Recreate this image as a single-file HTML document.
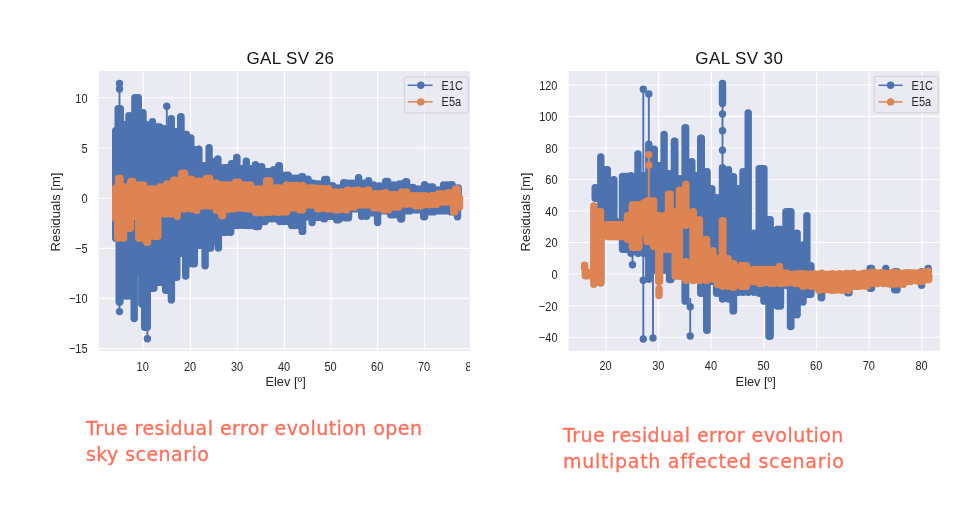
<!DOCTYPE html>
<html lang="en"><head><meta charset="utf-8"><title>Residual error evolution</title>
<style>
html,body{margin:0;padding:0;background:#fff;}
body{width:977px;height:511px;overflow:hidden;position:relative;font-family:"Liberation Sans",sans-serif;}
svg{position:absolute;left:0;top:0;display:block;will-change:transform;}
.t{font-family:"Liberation Sans",sans-serif;font-size:12.8px;fill:#262626;}
.ti{font-family:"Liberation Sans",sans-serif;font-size:17px;fill:#111;letter-spacing:0.4px;}
.cap{position:absolute;margin:0;color:#FF6E59;font-family:"DejaVu Sans","Liberation Sans",sans-serif;font-size:19px;line-height:26px;letter-spacing:0.44px;-webkit-text-stroke:0.3px #FF6E59;white-space:nowrap;will-change:transform;}
</style></head><body>
<svg width="977" height="511" viewBox="0 0 977 511">
<defs><clipPath id="cl"><rect x="98.7" y="70.7" width="371.3" height="280.3"/></clipPath>
<clipPath id="cl2"><rect x="460" y="355" width="10" height="20"/></clipPath></defs>
<g><rect x="98.6" y="71" width="371.4" height="280" fill="#EAEAF2"/><path d="M143.1 71V351M190.4 71V351M237.4 71V351M284.5 71V351M330.9 71V351M377.6 71V351M424.4 71V351M98.6 97.8H470M98.6 148H470M98.6 198.2H470M98.6 248.4H470M98.6 298.4H470M98.6 348.6H470" stroke="#fff" stroke-width="1.1" fill="none"/><g clip-path="url(#cl)"><path d="M115.7 130.7V198M117 130.7V198M118.2 108.7V198M120.3 108.7V198M124 124.7V198M125.5 124.7V198M126.7 124.7V198M128.9 115.7V198M131.3 115.7V198M134.9 97.7V198M138.3 97.7V198M141.8 112.7V198M143 112.7V198M144.2 124.7V198M146.9 124.7V198M149.8 124.7V198M152.5 121.7V198M155.2 127V198M158.7 127V198M159.8 127V198M163.2 128.7V198M165.8 128.7V198M168.2 128.7V198M171.3 118.7V198M174.6 131.7V198M176 131.7V198M177.2 131.7V198M180.7 116.7V198M181 116.7V198M184.6 134.4V198M186.5 134.4V198M188.2 137.9V198M190.8 137.9V198M193.2 149.7V198M194.2 149.7V198M195.2 149.7V198M198.7 149.1V198M198.9 149.1V198M202.5 165.7V198M204.1 165.7V198M205.7 165.7V198M209.1 147.7V198M212.5 161.7V198M213.5 161.7V198M214.5 161.7V198M217.9 158.9V198M221.3 167.7V198M224.9 167.7V198M226.5 167.7V198M229.8 167.7V198M231.5 163.7V198M233.2 163.7V198M236.7 157.5V198M236.9 157.5V198M240.5 168.7V198M241.9 168.7V198M243.2 168.7V198M246.3 161.2V198M249.5 168.7V198M250.9 168.7V198M252.2 168.7V198M255.4 164.7V198M258.7 166.7V198M261.7 166.7V198M264.6 171.7V198M268.2 171.7V198M268.6 171.7V198M272.1 171.7V198M273.6 169.7V198M275.1 169.7V198M278.7 165.7V198M279.3 165.7V198M283 175.2V198M286.7 175.2V198M288.2 175.2V198M291.8 178.2V198M295 178.2V198M298.1 178.2V198M301.7 176.7V198M302.6 176.7V198M306.1 179.1V198M308.1 179.1V198M310.1 183.1V198M313.1 183.1V198M316.1 184V198M318.6 184V198M321.1 184V198M324.7 179.5V198M326.6 179.5V198M330.1 185.7V198M332.6 185.7V198M335.1 187.9V198M337.6 187.9V198M340.1 187.9V198M343.7 182.7V198M344.6 182.7V198M348.1 183.1V198M351.6 183.1V198M355.1 183.1V198M358.6 177.6V198M362.1 183.1V198M364.1 183.1V198M366.1 183.1V198M368.6 180.7V198M371.1 185V198M373.6 185V198M376.1 186V198M379.1 186V198M382.1 186V198M385.7 181.5V198M387.6 181.5V198M391.1 185V198M394.1 185V198M397.1 185V198M399.6 184V198M402.1 184V198M405.7 181.7V198M406.6 181.7V198M410.1 187.4V198M413.1 187.4V198M416.1 188.9V198M418.6 188.9V198M421.1 188.9V198M424.6 184.7V198M428.1 187V198M431.7 187V198M432.6 187V198M436.1 189.9V198M438.1 189.9V198M440.1 189.9V198M443.6 185V198M447.1 185V198M450.7 184.7V198M452.1 184.7V198M455.6 187.9V198M458.2 187.9V198M115.7 198V238.3M117.5 198V238.3M119.2 198V302M119.9 198V302M123.5 198V296.1M127 198V296.1M130.8 198V296.1M134.2 198V318.6M137.1 198V272.3M138.5 198V272.3M140 198V272.3M141.8 198V303.9M142.2 198V303.9M144.7 198V327.3M147.3 198V327.3M151 198V288.3M153.9 198V288.3M156.7 198V282.3M159.7 198V282.3M162.7 198V282.3M165.6 198V290.3M168.5 198V290.3M171.4 198V300M174.4 198V277.3M176.8 198V277.3M179.2 198V253.3M180.7 198V253.3M182.2 198V253.3M185.7 198V276.1M189.2 198V263.8M192.7 198V263.8M194.3 198V263.8M197.8 198V245.3M199.8 198V245.3M201.7 198V245.3M205.1 198V265.8M208.6 198V248.1M210.6 198V248.1M212.5 198V241.3M214 198V241.3M215.5 198V241.3M218.4 198V248.1M221.3 198V232.3M223.8 198V232.3M226.2 198V232.3M229.7 198V232.3M230.6 198V232.3M234.2 198V225.6M237.7 198V225.6M240.4 198V225.1M243.2 198V225.2M245.9 198V225.3M248.6 198V225.6M252.2 198V225.6M255.7 198V226.5M258.6 198V226.5M262.1 198V221.6M265.1 198V221.6M268.1 198V218.7M271.7 198V218.7M272.6 198V218.7M276.1 198V218.7M279.7 198V221.6M282.1 198V221.2M284.6 198V221.6M288.1 198V221.6M291.7 198V225.6M295 198V225.6M298.6 198V225.6M302.2 198V231.4M302.6 198V231.4M306.1 198V216.8M307.6 198V216.8M309.1 198V216.8M312.1 198V222.6M315.1 198V217.3M317.6 198V217.3M320.1 198V217.3M323.7 198V218.7M324.6 198V218.7M328.1 198V216.3M330.6 198V216.3M333.1 198V216.3M336.7 198V219.7M338.6 198V219.7M342.1 198V217.7M345.7 198V217.7M348.6 198V217.7M352.1 198V208.9M355.1 198V208.9M358.1 198V208.9M361.7 198V216.3M364.1 198V215.8M366.6 198V216.3M370.1 198V212.8M372.1 198V212.8M374.1 198V212.8M377.6 198V222.6M381.1 198V210.9M384.1 198V210.9M387.1 198V210.9M390.7 198V214.8M393.6 198V214.8M397.1 198V214.8M400.7 198V219.1M401.6 198V219.1M405.1 198V210.9M408.7 198V210.9M409.6 198V210.9M413.1 198V209.9M416.6 198V209.9M420.1 198V209.9M423.7 198V216.8M424.6 198V216.8M428.1 198V211.9M431.7 198V211.9M433.6 198V211.9M437.1 198V210.9M440.7 198V210.9M442.6 198V210.2M444.6 198V210.9M448.1 198V210.9M451.1 198V211.9M454.1 198V211.9M457.5 198V216.8" stroke="#4C72B0" stroke-width="7.4" stroke-linecap="round" fill="none"/><path d="M119.5 83.5V110" stroke="#4C72B0" stroke-width="1.9" fill="none"/><circle cx="119.5" cy="83.5" r="3.7" fill="#4C72B0"/><circle cx="119.5" cy="89" r="3.7" fill="#4C72B0"/><path d="M166.8 106.2V126" stroke="#4C72B0" stroke-width="1.9" fill="none"/><circle cx="166.8" cy="106.2" r="3.7" fill="#4C72B0"/><path d="M119.5 311.6V300" stroke="#4C72B0" stroke-width="1.9" fill="none"/><circle cx="119.5" cy="311.6" r="3.7" fill="#4C72B0"/><path d="M147.4 338.7V326" stroke="#4C72B0" stroke-width="1.9" fill="none"/><circle cx="147.4" cy="338.7" r="3.7" fill="#4C72B0"/><path d="M115.7 187.9V198M117.2 187.9V198M118.7 178.2V198M120.1 178.2V198M123.7 187V198M125.4 187V198M127.2 187V198M130.7 181.5V198M132.6 181.5V198M136.2 185V198M139.7 185V198M141.7 186V198M143.6 185V198M147.2 188.9V198M150.7 188.9V198M153.6 188.9V198M157.2 188.9V198M160.2 187V198M163.2 187V198M166.7 184V198M170.2 184V198M173.7 180.1V198M174.6 180.1V198M178.2 180.1V198M181.7 173.3V198M184.6 173.3V198M188.2 179.1V198M191.7 179.1V198M195.2 181.1V198M198.7 181.1V198M199.6 181.1V198M203.2 181.1V198M206.7 178.2V198M209.6 178.2V198M213.2 183.1V198M216.7 183.1V198M220.2 185V198M223.7 185V198M226.2 185.4V198M228.6 185V198M232.2 185V198M235.7 182.1V198M238.6 182.1V198M242.2 185V198M245.7 185V198M248.2 185.1V198M250.6 185V198M254.2 188.9V198M257.7 188.9V198M259.6 188.9V198M263.1 188.9V198M266.7 180.7V198M269.6 180.7V198M273.1 187.9V198M276.7 187.9V198M279.6 187.9V198M283.1 187.9V198M286.6 185V198M290.1 185.4V198M293.7 185.4V198M296.7 185.8V198M299.6 186.1V198M302.6 185.4V198M306.1 187.9V198M309.7 187.9V198M312.1 188V198M314.6 187.9V198M318.1 188.5V198M321.7 188.5V198M325.1 189V198M328.6 188.5V198M332.1 191.9V198M335.7 191.9V198M338.1 192.8V198M340.6 191.9V198M344.1 191.9V198M347.7 189.9V198M351.2 190.7V198M354.7 190.4V198M358.1 190.3V198M361.6 191.2V198M365.1 190.9V198M368.6 189.9V198M372.1 193.8V198M375.7 193.8V198M378.6 193.8V198M382.1 193.8V198M385.6 192.4V198M389.1 194.7V198M392.7 194.7V198M394.6 194.7V198M398.1 194.7V198M401.7 191.9V198M404.1 192.6V198M406.6 191.9V198M410.1 195.7V198M413.7 195.7V198M416.1 196.8V198M418.6 195.7V198M422.1 195.7V198M425.7 195.7V198M428.6 196.9V198M431.6 195.7V198M435.1 195.7V198M438.7 193.8V198M441.6 193.8V198M445.1 193.8V198M448.6 192.8V198M452.1 192.8V198M455.7 188.9V198M457.3 188.9V198M115.7 198V218.7M116.7 198V218.7M117.7 198V238.3M120.7 198V237.6M123.6 198V238.3M127.2 198V228.3M130.3 198V228.3M133.6 198V216.3M134.4 198V216.3M135.2 198V216.3M138.7 198V238.3M139.6 198V238.3M143.2 198V238.3M146.7 198V242.3M147.6 198V242.3M151.2 198V236.3M154.7 198V236.3M157.8 198V236.3M161.5 198V213.8M165.2 198V213.8M168.4 198V213.7M171.6 198V213.8M175.2 198V213.8M177.2 198V216.3M179.2 198V208.9M182.7 198V208.9M185.3 198V208.7M188 198V208.1M190.6 198V208.9M194.2 198V208.9M196.7 198V210.5M199.2 198V206M202.7 198V206M205.3 198V204.7M208 198V205.7M210.6 198V206M214.2 198V206M216.2 198V210.3M218.2 198V210.3M221.7 198V215.8M222.6 198V215.8M226.2 198V209.3M228.2 198V209.3M230.2 198V208.9M233.7 198V208.9M236.7 198V208.3M239.7 198V207.7M242.6 198V208.1M245.6 198V208.4M248.6 198V208.9M252.2 198V208.9M255.7 198V212.8M259.1 198V212M262.6 198V212.8M266.1 198V212.3M269.7 198V212.3M273 198V211.8M276.3 198V212M279.6 198V212.3M283.1 198V211.9M286.6 198V211.9M290.1 198V207.9M293.1 198V207.9M296.1 198V207.9M299.7 198V209.9M302.6 198V209.9M306.1 198V205M309.7 198V205M310.6 198V205M314.1 198V205M317.7 198V208.9M320.4 198V208.5M323.1 198V207.8M325.9 198V208.7M328.6 198V208.9M332.1 198V208.9M335.7 198V209.9M338.4 198V209.8M341.1 198V209.3M343.9 198V209.1M346.6 198V209.9M350.1 198V207M353.7 198V207M354.6 198V207M358.1 198V205M361.7 198V205M364.1 198V204.5M366.6 198V205M370.1 198V205M373.7 198V207.9M376.6 198V207.9M380.1 198V207.9M383.7 198V209.9M386.1 198V209M388.6 198V209.9M392.1 198V207M395.7 198V207M398.6 198V207M402.1 198V204M405.7 198V204M408.6 198V204M412.1 198V204M415.7 198V206M418.1 198V205.4M420.6 198V206M424.1 198V204.6M427.7 198V204.6M430.7 198V204.5M433.6 198V204M436.6 198V204.6M440.1 198V202.1M443.7 198V202.1M446.6 198V202.1M450.1 198V202.1M453.7 198V211.9M454.6 198V211.9M458.1 198V207M459.5 198V207" stroke="#DD8452" stroke-width="7.4" stroke-linecap="round" fill="none"/></g><rect x="404.4" y="76.9" width="64" height="36.1" rx="2.2" fill="#EAEAF2" fill-opacity="0.8" stroke="#ccc" stroke-opacity="0.8" stroke-width="1"/><path d="M407.7 85.3H432.6" stroke="#4C72B0" stroke-width="1.5"/><circle cx="420.8" cy="85.3" r="3.7" fill="#4C72B0"/><text transform="translate(441.6 90.3) scale(0.86 1)" class="t" text-anchor="start">E1C</text><path d="M407.7 101.9H432.6" stroke="#DD8452" stroke-width="1.5"/><circle cx="420.8" cy="101.9" r="3.7" fill="#DD8452"/><text transform="translate(441.6 106.4) scale(0.86 1)" class="t" text-anchor="start">E5a</text><text transform="translate(142.7 370.6) scale(0.86 1)" class="t" text-anchor="middle">10</text><text transform="translate(190 370.6) scale(0.86 1)" class="t" text-anchor="middle">20</text><text transform="translate(237 370.6) scale(0.86 1)" class="t" text-anchor="middle">30</text><text transform="translate(284.1 370.6) scale(0.86 1)" class="t" text-anchor="middle">40</text><text transform="translate(330.5 370.6) scale(0.86 1)" class="t" text-anchor="middle">50</text><text transform="translate(377.2 370.6) scale(0.86 1)" class="t" text-anchor="middle">60</text><text transform="translate(424 370.6) scale(0.86 1)" class="t" text-anchor="middle">70</text><g clip-path="url(#cl2)"><text transform="translate(471.6 370.6) scale(0.86 1)" class="t" text-anchor="middle">80</text></g><text transform="translate(87.6 102.6) scale(0.86 1)" class="t" text-anchor="end">10</text><text transform="translate(87.6 152.8) scale(0.86 1)" class="t" text-anchor="end">5</text><text transform="translate(87.6 203) scale(0.86 1)" class="t" text-anchor="end">0</text><text transform="translate(87.6 253.2) scale(0.86 1)" class="t" text-anchor="end">−5</text><text transform="translate(87.6 303.2) scale(0.86 1)" class="t" text-anchor="end">−10</text><text transform="translate(87.6 353.4) scale(0.86 1)" class="t" text-anchor="end">−15</text><text transform="translate(285.6 386.4) scale(1 1)" class="t" text-anchor="middle">Elev [º]</text><text transform="translate(60.3 212) rotate(-90) scale(1.02 1)" class="t" text-anchor="middle">Residuals [m]</text><text x="290.4" y="63.7" class="ti" text-anchor="middle">GAL SV 26</text></g>
<g><rect x="568.6" y="71" width="371.3" height="279.8" fill="#EAEAF2"/><path d="M606 71V350.8M658.65 71V350.8M711.3 71V350.8M763.95 71V350.8M816.6 71V350.8M869.25 71V350.8M921.9 71V350.8M568.6 85H939.9M568.6 116.4H939.9M568.6 148H939.9M568.6 179.5H939.9M568.6 211H939.9M568.6 242.5H939.9M568.6 274H939.9M568.6 305.7H939.9M568.6 337.3H939.9" stroke="#fff" stroke-width="1.1" fill="none"/><path d="M595.2 187.7V198.31M595.3 187.7V198.31M600.8 156.9V282.81M606.7 169.7V220.31M607.3 169.7V220.31M613.7 179.7V222.31M613.9 179.7V222.31M616.4 221.7V236.31M622.5 176.5V249.31M624.3 176.5V249.31M626 176.5V249.31M627.8 176.5V249.31M631 175.7V253.31M638 154V253.31M643.5 175.7V253.31M648.8 144.2V279.31M654.2 149.1V270.31M658.8 165.7V270.31M664.1 134.4V270.31M669 173.7V270.31M674.4 141.3V270.31M674.8 141.3V270.31M669.5 253.7V279.61M670.9 253.7V279.61M680 178.7V270.31M685.1 127.6V301.11M685.6 127.6V301.11M691.8 161.7V270.31M695.8 175.7V270.31M700.7 138.3V293.31M701.3 138.3V293.31M706.7 171.7V330.31M707.1 171.7V330.31M711.8 188.7V281.31M716.6 197.7V293.31M722.5 167.7V299.11M722.5 83.5V103.51M728.5 169.7V299.11M733.1 176.7V310.91M733.5 176.7V310.91M738.8 188.7V292.31M743 171.7V292.31M748.2 112.9V292.31M753.8 233.3V292.31M759.2 168.7V293.31M760.8 168.7V293.31M762.3 168.7V293.31M763.9 168.7V293.31M763.9 168.7V301.11M769 219.6V336.31M770.2 219.6V336.31M777.2 229.4V306.01M778.3 229.4V306.01M780.1 229.4V306.01M780.5 229.4V306.01M786 211.7V285.31M787.4 211.7V285.31M788.9 211.7V285.31M790.3 211.7V285.31M790.5 211.7V326.51M790.9 211.7V326.51M797.1 233.3V314.81M803 245V302.11M806.9 215.7V294.31M809.5 265.7V294.31M810.9 265.7V294.31M821.2 275.7V297.81M821.6 275.7V297.81M833.7 275.7V289.31M834.6 275.7V289.31M847.7 275.7V292.81M849 275.7V292.81M870.1 268.4V288.31M871.5 268.4V288.31M885.8 268.4V281.31M894.7 271.7V289.71M895.9 271.7V289.71M897 271.7V289.71M921.6 271.7V285.31M928.2 268.4V279.31" stroke="#4C72B0" stroke-width="7.4" stroke-linecap="round" fill="none"/><path d="M643.3 89.2V339" stroke="#4C72B0" stroke-width="1.9" fill="none"/><circle cx="643.3" cy="89.2" r="3.7" fill="#4C72B0"/><circle cx="643.3" cy="280.3" r="3.7" fill="#4C72B0"/><circle cx="643.3" cy="339" r="3.7" fill="#4C72B0"/><path d="M648.8 93.9V142" stroke="#4C72B0" stroke-width="1.9" fill="none"/><circle cx="648.8" cy="93.9" r="3.7" fill="#4C72B0"/><path d="M653 250V338" stroke="#4C72B0" stroke-width="1.9" fill="none"/><circle cx="653" cy="338" r="3.7" fill="#4C72B0"/><path d="M632.5 250V264.7" stroke="#4C72B0" stroke-width="1.9" fill="none"/><circle cx="632.5" cy="264.7" r="3.7" fill="#4C72B0"/><path d="M690.2 298V336" stroke="#4C72B0" stroke-width="1.9" fill="none"/><circle cx="690.2" cy="306.8" r="3.7" fill="#4C72B0"/><circle cx="690.2" cy="336" r="3.7" fill="#4C72B0"/><path d="M722.5 105V166" stroke="#4C72B0" stroke-width="1.9" fill="none"/><circle cx="722.5" cy="114" r="3.7" fill="#4C72B0"/><circle cx="722.5" cy="130.7" r="3.7" fill="#4C72B0"/><circle cx="722.5" cy="150.3" r="3.7" fill="#4C72B0"/><path d="M585.3 272.3V275.71M586.6 272.3V275.71M587.9 272.3V275.71M584.6 265.1V268.31M593.8 205.9V284.31M599.7 211.7V282.51M600.6 211.7V282.51M607.7 224.7V236.61M609.5 224.7V236.61M611.3 224.7V236.61M613.1 224.7V236.61M615 224.7V236.61M616.8 224.7V236.61M618.6 224.7V236.61M620.4 224.7V236.61M622.2 224.7V236.61M627.4 215.7V239.31M628 215.7V239.31M632.3 204.9V247.31M633.9 204.9V247.31M635.5 204.9V247.31M637.2 204.9V247.31M638.8 204.9V247.31M643.8 202.7V231.31M647 201V241.51M648.6 201V241.51M650.3 201V241.51M651.9 201V241.51M653.6 201V241.51M653.6 203.7V246.31M658.7 215.7V281.51M659.6 215.7V281.51M659 288.7V295.61M664.5 215.7V249.31M668.5 194.1V249.31M670.1 194.1V249.31M675.2 211.7V276.31M679.4 190.2V276.31M685.7 184.4V225.31M685.8 184.4V225.31M685.7 261.7V280.31M685.8 261.7V280.31M693 211.7V280.51M693.3 211.7V280.51M699.4 219.7V280.51M705.7 239.7V280.31M706.6 239.7V280.31M713 250.7V279.31M717.5 258.7V284.31M722.3 220.6V286.31M722.9 220.6V286.31M728 258.7V286.31M733.1 263.7V287.31M733.7 263.7V287.31M740.7 265.7V286.31M742.7 265.7V286.31M744.6 265.7V286.31M746.6 265.7V286.31M753.7 269.4V276M756.8 269.4V276M759.9 269.5V276M763 269.9V276M766.1 269.4V276M769.2 269.5V276M772.3 269.4V276M776 269.4V276M779.5 266.4V276M783 273.3V276M786.7 273.3V276M790.2 274.4V276M793.8 274.3V276M797.3 273.8V276M800.8 273.8V276M804.3 273.7V276M807.9 274.3V276M811.4 273.9V276M814.9 273.9V276M818.4 274.3V276M822 273.3V276M825.5 274.4V276M829 274.2V276M832.6 273.7V276M836.1 274.5V276M839.6 273.8V276M843.1 274.2V276M846.7 273.5V276M850.2 273.6V276M853.7 273.3V276M857.2 274.5V276M860.8 274V276M864.3 273.3V276M868 273.3V276M871.7 272.3V276M875.1 272.4V276M878.6 273V276M882 272.5V276M885.5 273.5V276M888.9 273.5V276M892.3 272.7V276M895.8 272.5V276M899.2 273.5V276M902.7 273.1V276M906.1 272.8V276M909.5 272.7V276M913 273V276M916.4 273V276M919.9 272.8V276M923.3 272.3V276M926 272.3V276M928.3 271.3V276M753 276V281.5M756 276V281.5M759.7 276V283.5M763.3 276V282.7M766.8 276V282.3M770.4 276V283.3M773.9 276V283.4M777.5 276V282.9M781.1 276V283.4M784.6 276V282.8M788.2 276V282.9M791.7 276V282.3M795.3 276V283.5M799 276V283.5M802.7 276V286.3M805.6 276V285.7M808.4 276V285.4M811.3 276V286.3M815 276V286.3M818.7 276V290.3M822 276V289.4M825.3 276V289.8M828.6 276V289.8M831.9 276V290.2M835.1 276V290M838.4 276V289.8M841.7 276V290.2M845 276V289.3M848.3 276V290.3M852 276V286.3M855.7 276V286.3M858.6 276V286.3M861.5 276V285.8M864.4 276V286M867.3 276V286.3M871 276V283.5M874.7 276V283.5M877.6 276V283.5M880.4 276V282.4M883.3 276V283.5M887 276V283.5M890.7 276V284.3M893.9 276V284M897 276V283.7M900.1 276V283.7M903.3 276V284.3M907 276V281.5M910.7 276V281.5M913.6 276V280.3M916.5 276V280.8M919.4 276V281.3M922.3 276V281.5M926 276V279.6M928.8 276V279.6" stroke="#DD8452" stroke-width="7.4" stroke-linecap="round" fill="none"/><path d="M648.8 154.6V198" stroke="#DD8452" stroke-width="1.9" fill="none"/><circle cx="648.8" cy="154.6" r="3.7" fill="#DD8452"/><circle cx="648.8" cy="165.3" r="3.7" fill="#DD8452"/><rect x="874.3" y="76.3" width="64" height="36.4" rx="2.2" fill="#EAEAF2" fill-opacity="0.8" stroke="#ccc" stroke-opacity="0.8" stroke-width="1"/><path d="M878.6 85.3H902.6" stroke="#4C72B0" stroke-width="1.5"/><circle cx="890.6" cy="85.3" r="3.7" fill="#4C72B0"/><text transform="translate(911.6 89.9) scale(0.86 1)" class="t" text-anchor="start">E1C</text><path d="M878.6 101.9H902.6" stroke="#DD8452" stroke-width="1.5"/><circle cx="890.6" cy="101.9" r="3.7" fill="#DD8452"/><text transform="translate(911.6 106.4) scale(0.86 1)" class="t" text-anchor="start">E5a</text><text transform="translate(605.6 370.4) scale(0.86 1)" class="t" text-anchor="middle">20</text><text transform="translate(658.25 370.4) scale(0.86 1)" class="t" text-anchor="middle">30</text><text transform="translate(710.9 370.4) scale(0.86 1)" class="t" text-anchor="middle">40</text><text transform="translate(763.55 370.4) scale(0.86 1)" class="t" text-anchor="middle">50</text><text transform="translate(816.2 370.4) scale(0.86 1)" class="t" text-anchor="middle">60</text><text transform="translate(868.85 370.4) scale(0.86 1)" class="t" text-anchor="middle">70</text><text transform="translate(921.5 370.4) scale(0.86 1)" class="t" text-anchor="middle">80</text><text transform="translate(557.5 89.8) scale(0.86 1)" class="t" text-anchor="end">120</text><text transform="translate(557.5 121.2) scale(0.86 1)" class="t" text-anchor="end">100</text><text transform="translate(557.5 152.8) scale(0.86 1)" class="t" text-anchor="end">80</text><text transform="translate(557.5 184.3) scale(0.86 1)" class="t" text-anchor="end">60</text><text transform="translate(557.5 215.8) scale(0.86 1)" class="t" text-anchor="end">40</text><text transform="translate(557.5 247.3) scale(0.86 1)" class="t" text-anchor="end">20</text><text transform="translate(557.5 278.8) scale(0.86 1)" class="t" text-anchor="end">0</text><text transform="translate(557.5 310.5) scale(0.86 1)" class="t" text-anchor="end">−20</text><text transform="translate(557.5 342.1) scale(0.86 1)" class="t" text-anchor="end">−40</text><text transform="translate(755.7 386.2) scale(1 1)" class="t" text-anchor="middle">Elev [º]</text><text transform="translate(530.3 212) rotate(-90) scale(1.02 1)" class="t" text-anchor="middle">Residuals [m]</text><text x="739.3" y="63.7" class="ti" text-anchor="middle">GAL SV 30</text></g>
</svg>
<p class="cap" id="c1" style="left:86px;top:415.1px;">True residual error evolution open<br>sky scenario</p>
<p class="cap" id="c2" style="left:562.5px;top:421.5px;">True residual error evolution<br><span style="letter-spacing:0.7px">multipath affected scenario</span></p>
</body></html>
